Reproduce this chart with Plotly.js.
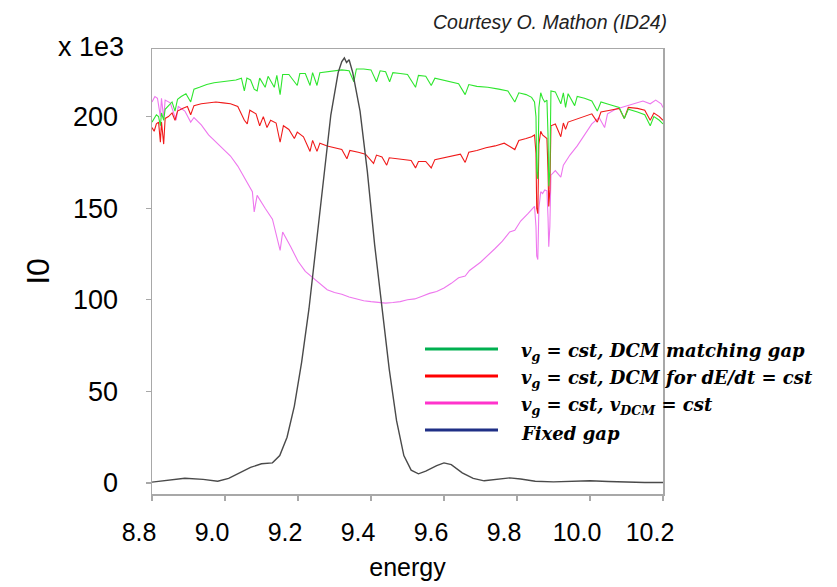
<!DOCTYPE html>
<html>
<head>
<meta charset="utf-8">
<script src="https://cdn.plot.ly/plotly-3.0.1.min.js"></script>
<style>html,body{margin:0;padding:0;background:#fff;}#chart{width:837px;height:587px;}</style>
</head>
<body>
<div id="chart"></div>
<script>
// ---- data ----
const xTickVals = [8.8, 9.0, 9.2, 9.4, 9.6, 9.8, 10.0, 10.2];
const xTickText = ['8.8', '9.0', '9.2', '9.4', '9.6', '9.8', '10.0', '10.2'];
const yTickVals = [0, 50, 100, 150, 200];
const yTickText = ['0', '50', '100', '150', '200'];

const legendNames = [
  'v<sub>g</sub> = cst, DCM matching gap',
  'v<sub>g</sub> = cst, DCM for dE/dt = cst',
  'v<sub>g</sub> = cst, v<sub>DCM</sub> = cst',
  'Fixed gap'
];

// green: v_g = cst, DCM matching gap
const greenE = [8.800,8.806,8.812,8.818,8.823,8.826,8.832,8.836,8.845,8.855,8.863,8.870,8.880,8.893,8.906,8.915,8.930,8.950,8.970,8.990,9.010,9.030,9.045,9.053,9.060,9.070,9.080,9.088,9.095,9.110,9.118,9.135,9.142,9.151,9.158,9.175,9.198,9.205,9.220,9.233,9.240,9.252,9.260,9.280,9.300,9.320,9.340,9.353,9.360,9.380,9.400,9.415,9.425,9.440,9.451,9.460,9.480,9.500,9.522,9.530,9.550,9.565,9.575,9.600,9.620,9.640,9.658,9.668,9.690,9.720,9.750,9.775,9.794,9.805,9.825,9.840,9.848,9.852,9.854,9.857,9.860,9.865,9.870,9.876,9.882,9.885,9.887,9.890,9.893,9.905,9.920,9.927,9.933,9.940,9.958,9.965,9.985,10.005,10.020,10.030,10.055,10.080,10.094,10.105,10.130,10.150,10.165,10.175,10.190,10.200];
const greenI = [197,199,201,200,195,202,198,204,206,208,203,209.5,211,212.5,208,215,216,217.5,218.5,219,219.5,220,221,214,221,220,215,214,221,216,222,216,222.5,212,223,223,217,223.5,223.5,217,224,217,224,224.5,225,225.5,225,219,226,226,225.5,219,225,224.5,219,224,223.5,223,216,222.5,222,217,221,220,219,218,212,217.5,216.5,216,215,214,208,213,212,210.5,208,200,170,166,205,213,210,208,209,190,162,170,214,213.5,207,213,205,212.5,206,211,210,208.5,203,208,206.5,205,199,204,202.5,201,195,200,198,196];

// red: v_g = cst, DCM for dE/dt = cst
const redE = [8.800,8.806,8.812,8.818,8.823,8.826,8.832,8.836,8.845,8.855,8.863,8.870,8.885,8.897,8.906,8.915,8.935,8.955,8.975,8.995,9.015,9.035,9.053,9.061,9.068,9.085,9.095,9.105,9.115,9.125,9.140,9.151,9.160,9.175,9.190,9.198,9.215,9.233,9.240,9.252,9.260,9.280,9.300,9.320,9.334,9.342,9.365,9.385,9.407,9.415,9.430,9.443,9.450,9.470,9.490,9.510,9.522,9.530,9.550,9.565,9.575,9.600,9.625,9.645,9.658,9.668,9.690,9.715,9.740,9.765,9.794,9.805,9.825,9.840,9.848,9.852,9.854,9.857,9.860,9.865,9.870,9.876,9.882,9.885,9.887,9.890,9.893,9.905,9.920,9.927,9.933,9.940,9.960,9.985,10.005,10.020,10.030,10.055,10.080,10.094,10.105,10.130,10.150,10.165,10.175,10.190,10.200];
const redI = [194,192,196,197,186,197,185,199,200,202,198,203,204.5,205.5,201,206,207,207.5,208,207.5,207,205.5,198,196,203.5,201.5,195,200,194,198,196.5,186,195,193,188,191.5,189,181,187,181,185.5,184,183,182,177,181.5,180.5,179.5,174.5,179,178,173.5,177.5,177,176.5,176,172,175.5,175.5,172,176.5,177.5,178.5,179.5,175,180.5,181.5,183,184,185.5,182,187,188,189,190,180,150,147,185,192,190,189,188,170,151,160,195,196,189,196.5,193,197,198.5,200,201.5,197,202.5,203.5,204.5,199,205,204.5,203.5,198,202,200,198];

// magenta: v_g = cst, v_DCM = cst
const magentaE = [8.800,8.808,8.815,8.823,8.826,8.832,8.836,8.850,8.866,8.872,8.890,8.906,8.915,8.935,8.955,8.975,8.995,9.015,9.035,9.055,9.075,9.080,9.088,9.110,9.130,9.151,9.158,9.180,9.200,9.220,9.240,9.260,9.280,9.300,9.320,9.340,9.360,9.380,9.400,9.420,9.440,9.460,9.480,9.500,9.520,9.540,9.560,9.580,9.600,9.620,9.640,9.658,9.670,9.700,9.720,9.740,9.760,9.780,9.794,9.810,9.830,9.848,9.852,9.854,9.857,9.860,9.865,9.870,9.876,9.882,9.885,9.887,9.890,9.893,9.905,9.920,9.927,9.945,9.965,9.985,10.005,10.025,10.040,10.048,10.070,10.095,10.120,10.145,10.165,10.180,10.195,10.200];
const magentaI = [208,211,210,200,210,199,209,207.5,198,205.5,203,197,199.5,195.5,190,186,182.5,178.5,173,166,159,148,157,150,144,127,137,129,121,115.5,112,108.5,105.5,104,103,101.5,100.5,99.5,99,98.5,98.2,98.5,99,100,100.5,102,103.5,104.5,106.5,109,112,113,116,120.5,124,128,132,137,138,143,147,151,140,124,122,150,159,158,160,159.5,145,129,140,168,170.5,167,173.5,179,184,190,196,199.5,194,201.5,204,205.5,207,208.5,207,209,207,205];

// dark grey: fixed gap
const fixedE = [8.80,8.84,8.89,8.94,8.98,9.01,9.04,9.07,9.10,9.13,9.15,9.17,9.19,9.21,9.23,9.25,9.27,9.29,9.31,9.32,9.327,9.333,9.34,9.35,9.37,9.39,9.41,9.43,9.45,9.47,9.49,9.51,9.53,9.55,9.58,9.60,9.62,9.65,9.68,9.71,9.75,9.78,9.81,9.85,9.90,9.95,10.00,10.05,10.10,10.15,10.20];
const fixedI = [0.5,1.5,2.6,2,1,2.5,5.5,8.5,10.5,11,15,25,42,66,95,130,168,201,224,230,232,229.5,231,224,203,170,130,95,62,34,15,7,5,6.5,9.5,11,10,5.5,2.5,1.2,2,2.8,2.2,1,0.6,0.8,1.2,0.8,0.4,0.3,0.3];

// ---- chart ----
const W = 837, H = 587;
const L = 152, R = 663, T = 49, B = 494;
const px = x => (x - L) / (R - L);
const py = y => 1 - (y - T) / (B - T);

const traces = [
  {x: magentaE, y: magentaI, type: 'scatter', mode: 'lines', line: {color: '#ee77ee', width: 1.1}, showlegend: false, hoverinfo: 'skip'},
  {x: redE, y: redI, type: 'scatter', mode: 'lines', line: {color: '#f01a1a', width: 1.1}, showlegend: false, hoverinfo: 'skip'},
  {x: greenE, y: greenI, type: 'scatter', mode: 'lines', line: {color: '#2ee62e', width: 1.1}, showlegend: false, hoverinfo: 'skip'},
  {x: fixedE, y: fixedI, type: 'scatter', mode: 'lines', line: {color: '#4a4a4a', width: 1.4}, showlegend: false, hoverinfo: 'skip'}
];

const legendColors = ['#00b050', '#ff0000', '#ff33cc', '#1f2f86'];
const legendRows = [349, 376, 403, 430];
const shapes = [];
const annotations = [];
legendRows.forEach((yy, i) => {
  shapes.push({type: 'line', xref: 'paper', yref: 'paper', x0: px(425), x1: px(498), y0: py(yy), y1: py(yy), line: {color: legendColors[i], width: 3}});
  annotations.push({xref: 'paper', yref: 'paper', x: px(519), y: py(yy), xanchor: 'left', yanchor: 'middle', showarrow: false,
    text: legendNames[i], font: {family: 'DejaVu Serif', size: 18, color: '#000', weight: 'bold', style: 'italic'}, yshift: -3});
});
annotations.push({xref: 'paper', yref: 'paper', x: px(669), y: py(22), xanchor: 'right', yanchor: 'middle', showarrow: false,
  text: 'Courtesy O. Mathon (ID24)', font: {family: 'Liberation Sans', size: 19.5, color: '#222', style: 'italic'}});
annotations.push({xref: 'paper', yref: 'paper', x: px(126), y: py(47), xanchor: 'right', yanchor: 'middle', showarrow: false,
  text: 'x 1e3', font: {family: 'Liberation Sans', size: 27, color: '#000'}});

const layout = {
  width: W, height: H,
  margin: {l: L, r: W - R, t: T, b: H - B, pad: 0},
  paper_bgcolor: '#fff', plot_bgcolor: '#fff',
  showlegend: false,
  xaxis: {
    range: [8.8, 10.2], tickmode: 'array', tickvals: xTickVals, ticktext: xTickText,
    showgrid: false, zeroline: false, showline: true, mirror: true, linecolor: '#a8a8a8', linewidth: 1.5,
    ticks: 'outside', ticklen: 5, tickcolor: '#a8a8a8', tickwidth: 1.2,
    tickfont: {family: 'Liberation Sans', size: 25, color: '#000'}, ticklabelshift: -13, ticklabelstandoff: 10,
    title: {text: 'energy', font: {family: 'Liberation Sans', size: 25, color: '#000'}, standoff: 14}
  },
  yaxis: {
    range: [-6, 236.9], tickmode: 'array', tickvals: yTickVals, ticktext: yTickText,
    showgrid: false, zeroline: false, showline: true, mirror: true, linecolor: '#a8a8a8', linewidth: 1.5,
    ticks: 'outside', ticklen: 5, tickcolor: '#a8a8a8', tickwidth: 1.2,
    tickfont: {family: 'Liberation Sans', size: 27, color: '#000'}, ticklabelstandoff: 22,
    title: {text: 'I0', font: {family: 'Liberation Sans', size: 32, color: '#000'}, standoff: 14}
  },
  shapes: shapes,
  annotations: annotations
};

Plotly.newPlot('chart', traces, layout, {staticPlot: true, displayModeBar: false});
</script>
</body>
</html>
